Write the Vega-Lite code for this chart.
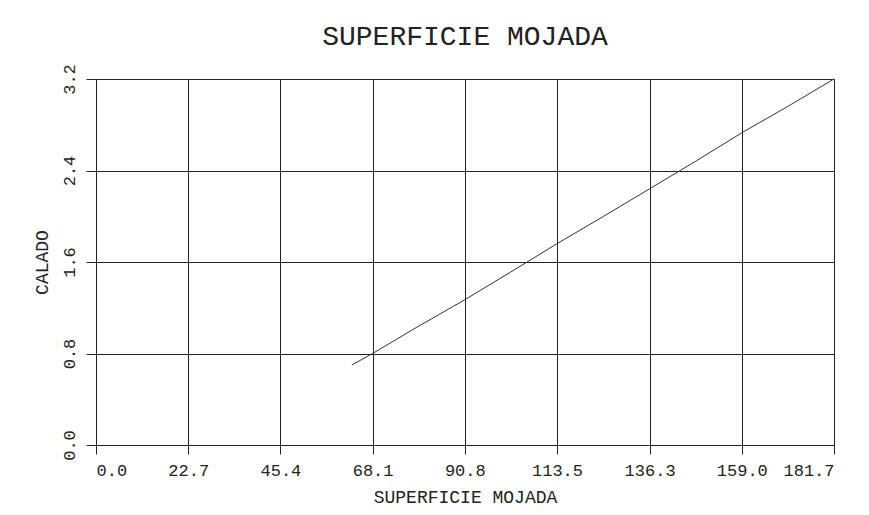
{
  "$schema": "https://vega.github.io/schema/vega-lite/v6.json",
  "autosize": "none",
  "width": 738,
  "height": 366,
  "padding": {"left": 96, "top": 79, "right": 35, "bottom": 70},
  "background": "white",
  "title": {
    "text": "SUPERFICIE MOJADA",
    "font": "Liberation Mono",
    "fontSize": 28,
    "fontWeight": "normal",
    "color": "#222",
    "anchor": "middle",
    "offset": 13
  },
  "data": {
    "values": [
      {"sup": 63.0, "calado": 0.70},
      {"sup": 68.1, "calado": 0.80},
      {"sup": 79.0, "calado": 1.03},
      {"sup": 90.8, "calado": 1.27},
      {"sup": 102.0, "calado": 1.51},
      {"sup": 113.5, "calado": 1.76},
      {"sup": 125.0, "calado": 2.00},
      {"sup": 136.3, "calado": 2.24},
      {"sup": 147.6, "calado": 2.48},
      {"sup": 159.0, "calado": 2.73},
      {"sup": 170.3, "calado": 2.96},
      {"sup": 181.7, "calado": 3.20}
    ]
  },
  "mark": {"type": "line", "color": "#333", "strokeWidth": 1},
  "encoding": {
    "x": {
      "field": "sup",
      "type": "quantitative",
      "scale": {"domain": [0, 181.7], "nice": false, "zero": false},
      "axis": {
        "title": "SUPERFICIE MOJADA",
        "values": [0, 22.7, 45.4, 68.1, 90.8, 113.5, 136.3, 159.0, 181.7],
        "format": ".1f",
        "grid": true,
        "gridColor": "#222",
        "gridOpacity": 1,
        "gridWidth": 1,
        "domainColor": "#222",
        "tickColor": "#222",
        "tickSize": 9,
        "labelFont": "Liberation Mono",
        "labelFontSize": 17,
        "labelColor": "#222",
        "labelPadding": 8,
        "titleFont": "Liberation Mono",
        "titleFontSize": 18,
        "titleFontWeight": "normal",
        "titleColor": "#222",
        "titlePadding": 10
      }
    },
    "y": {
      "field": "calado",
      "type": "quantitative",
      "scale": {"domain": [0, 3.2], "nice": false, "zero": false},
      "axis": {
        "title": "CALADO",
        "values": [0, 0.8, 1.6, 2.4, 3.2],
        "format": ".1f",
        "grid": true,
        "gridColor": "#222",
        "gridOpacity": 1,
        "gridWidth": 1,
        "domainColor": "#222",
        "tickColor": "#222",
        "tickSize": 10,
        "labelAngle": -90,
        "labelAlign": "center",
        "labelBaseline": "bottom",
        "labelFont": "Liberation Mono",
        "labelFontSize": 17,
        "labelColor": "#222",
        "labelPadding": 8,
        "titleFont": "Liberation Mono",
        "titleFontSize": 18,
        "titleFontWeight": "normal",
        "titleColor": "#222",
        "titlePadding": 9
      }
    }
  },
  "config": {"view": {"stroke": "#222", "strokeWidth": 1}}
}
